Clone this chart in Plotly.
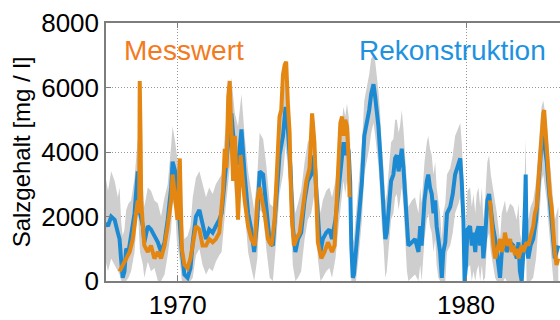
import plotly.graph_objects as go

# Reconstruction (blue) with uncertainty band (gray)
blue_years = [
    1967.50, 1967.58, 1967.69, 1967.81, 1967.92, 1967.98, 1968.04, 1968.09, 1968.15, 1968.21,
    1968.29, 1968.38, 1968.50, 1968.61, 1968.69, 1968.79, 1968.84, 1968.96, 1969.07, 1969.19,
    1969.31, 1969.42, 1969.54, 1969.65, 1969.77, 1969.82, 1969.91, 1969.97, 1970.06, 1970.14,
    1970.23, 1970.34, 1970.44, 1970.52, 1970.63, 1970.75, 1970.86, 1970.98, 1971.09, 1971.21,
    1971.32, 1971.44,
    1971.52, 1971.63, 1971.75, 1971.86, 1971.98, 1972.09, 1972.21, 1972.32, 1972.44, 1972.55,
    1972.65, 1972.76, 1972.84, 1972.96, 1973.07, 1973.19, 1973.30, 1973.42, 1973.53, 1973.65,
    1973.74, 1973.82, 1973.91, 1973.99, 1974.08, 1974.17, 1974.28, 1974.40, 1974.51, 1974.63,
    1974.74, 1974.81, 1974.86, 1974.95, 1975.03, 1975.15, 1975.26,
    1975.35, 1975.47, 1975.58, 1975.70, 1975.75, 1975.81, 1975.87, 1975.93, 1975.98, 1976.02,
    1976.07, 1976.11, 1976.18, 1976.27, 1976.39, 1976.47, 1976.56, 1976.64, 1976.71, 1976.79,
    1976.85, 1976.91, 1976.96, 1977.02, 1977.08, 1977.14, 1977.20, 1977.25, 1977.31, 1977.40,
    1977.48, 1977.54, 1977.60, 1977.66, 1977.71, 1977.77, 1977.83, 1977.89, 1977.95, 1978.00,
    1978.12, 1978.23, 1978.35, 1978.41, 1978.46, 1978.56, 1978.64, 1978.69, 1978.75, 1978.81,
    1978.87, 1978.93, 1978.98, 1979.04, 1979.10, 1979.16, 1979.21,
    1979.28, 1979.34, 1979.45, 1979.54, 1979.62, 1979.74, 1979.80, 1979.85, 1979.91, 1979.95,
    1980.00, 1980.05, 1980.14, 1980.20, 1980.26, 1980.32, 1980.37, 1980.43, 1980.49, 1980.55,
    1980.60, 1980.66, 1980.74, 1980.80, 1980.86, 1980.93, 1981.01, 1981.07, 1981.12, 1981.18,
    1981.24, 1981.30, 1981.35, 1981.41, 1981.53, 1981.64, 1981.70, 1981.76, 1981.82, 1981.87,
    1981.93, 1981.99, 1982.05, 1982.07, 1982.10, 1982.16, 1982.24, 1982.33, 1982.43, 1982.51,
    1982.57, 1982.62, 1982.68, 1982.74, 1982.80, 1982.85, 1982.91, 1982.97, 1983.03, 1983.08,
    1983.14, 1983.20,
]
blue_vals = [
    1800, 1700, 2000, 1900, 1500, 1300, 600, 100, 300, 1000,
    900, 1400, 2100, 3400, 2100, 1700, 1200, 1700, 1600, 1400,
    1200, 900, 1200, 1900, 2900, 3700, 3400, 2500, 1900, 900,
    200, 100, 400, 1200, 2000, 2200, 1700, 1300, 1600, 1500,
    1700, 1900,
    2100, 3300, 4300, 5200, 3900, 3600, 4700, 3300, 2100, 1600,
    900, 1900, 3400, 3300, 2300, 1200, 1100, 2500, 3900, 4500,
    5400, 4700, 3500, 1700, 900, 1300, 1500, 2500, 3100, 3300,
    3900, 2700, 1900, 900, 1300, 1500, 1600,
    1300, 1900, 2900, 3900, 4300, 3900, 4300, 4000, 3100, 1100,
    100, 200, 900, 1900, 3100, 4500, 4900, 5300, 5800, 6100,
    5700, 5300, 4800, 4000, 2900, 2300, 1300, 1500, 2100, 3100,
    3300, 3800, 3900, 3400, 3700, 4100, 3500, 2500, 1500, 1100,
    1200, 1300, 900, 1700, 1100, 2500, 3100, 3300, 2900, 2700,
    2100, 2500, 1700, 1300, 900, 100, 900,
    1200, 2100, 2300, 2700, 3300, 3600, 3800, 3100, 1900, 0,
    500, 1600, 1700, 1100, 1500, 900, 1500, 1700, 1100, 1700,
    700, 1300, 2500, 2700, 2100, 1700, 1300, 900, 500, 100,
    900, 1100, 1300, 900, 1200, 1100, 900, 700, 1200, 300,
    0, 900, 2500, 3300, 1100, 700, 1100, 1300, 1900, 2900,
    3500, 4300, 4500, 4100, 3700, 3100, 2500, 1900, 1100, 700,
    900, 1100,
]
band_upper = [
    3200, 2800, 3400, 3100, 2600, 2900, 1800, 1400, 1600, 2200,
    2400, 2500, 3200, 4400, 3600, 2900, 2300, 2900, 2800, 2500,
    2400, 2000, 2600, 3000, 4200, 4800, 4300, 3900, 3000, 2100,
    1300, 1400, 1700, 2600, 3200, 3400, 3000, 2600, 2900, 2700,
    3000, 3200,
    3300, 4500, 5500, 6300, 5200, 4800, 5800, 4500, 3400, 2800,
    2200, 3300, 4600, 4400, 3600, 2400, 2300, 3700, 5000, 5700,
    6400, 5900, 4700, 2900, 2100, 2400, 2800, 3700, 4300, 4500,
    5000, 3900, 3100, 2100, 2500, 2800, 2900,
    2600, 3100, 4100, 5000, 5400, 5100, 5500, 5100, 4300, 2300,
    1200, 1300, 2100, 3100, 4300, 5600, 6000, 6400, 6900, 7000,
    6800, 6400, 5900, 5200, 4100, 3500, 2500, 2700, 3300, 4300,
    4400, 5000, 5000, 4600, 4800, 5300, 4700, 3700, 2700, 2300,
    2500, 2600, 2100, 2900, 2400, 3700, 4300, 4500, 4100, 3900,
    3300, 3700, 2900, 2500, 2100, 1300, 2100,
    2400, 3300, 3500, 3900, 4500, 4800, 4900, 4300, 3100, 1200,
    1700, 2800, 2900, 2300, 2700, 2100, 2700, 2900, 2300, 2900,
    1900, 2500, 3700, 3900, 3300, 2900, 2500, 2100, 1700, 1300,
    2100, 2300, 2500, 2100, 2400, 2300, 2100, 1900, 2400, 1500,
    1200, 2100, 3700, 4400, 2300, 1900, 2300, 2500, 3100, 4100,
    4700, 5400, 5600, 5300, 4900, 4300, 3700, 3100, 2300, 1900,
    2100, 2300,
]
band_lower = [
    600, 300, 700, 500, 300, 200, 0, 0, 0, 0,
    100, 300, 900, 2300, 900, 500, 100, 600, 300, 400,
    0, 0, 200, 800, 1600, 2500, 2200, 1200, 700, 0,
    0, 0, 0, 100, 800, 1000, 500, 200, 400, 300,
    600, 800,
    900, 2000, 3100, 4000, 2700, 2400, 3400, 2100, 900, 400,
    0, 700, 2200, 2100, 1000, 100, 0, 1300, 2700, 3300,
    4200, 3500, 2300, 500, 0, 100, 300, 1300, 1900, 2100,
    2700, 1500, 700, 0, 100, 300, 400,
    100, 700, 1700, 2700, 3100, 2700, 3100, 2800, 1900, 0,
    0, 0, 0, 700, 1900, 3300, 3700, 4100, 4600, 4900,
    4500, 4100, 3600, 2800, 1700, 1100, 100, 300, 900, 1900,
    2100, 2600, 2700, 2200, 2500, 2900, 2300, 1300, 300, 0,
    100, 200, 0, 500, 0, 1300, 1900, 2100, 1700, 1500,
    900, 1300, 500, 100, 0, 0, 0,
    0, 900, 1100, 1500, 2100, 2400, 2600, 1900, 700, 0,
    0, 400, 500, 0, 300, 0, 300, 500, 0, 500,
    0, 100, 1300, 1500, 900, 500, 100, 0, 0, 0,
    0, 0, 100, 0, 0, 0, 0, 0, 0, 0,
    0, 0, 1300, 2100, 0, 0, 0, 100, 700, 1700,
    2300, 3100, 3300, 2900, 2500, 1900, 1300, 700, 0, 0,
    0, 0,
]

# Measured values (orange); None marks the gap without measurements
orange_years = [
    1967.98, 1968.09, 1968.21, 1968.33, 1968.44, 1968.56, 1968.61, 1968.66, 1968.68, 1968.71,
    1968.73, 1968.79, 1968.84, 1968.96, 1969.07, 1969.19, 1969.31, 1969.42, 1969.54, 1969.65,
    1969.77, 1969.82, 1969.88, 1969.94, 1969.99, 1970.07, 1970.14, 1970.23, 1970.34, 1970.44,
    1970.52, 1970.63, 1970.75, 1970.86, 1970.98, 1971.09, 1971.21, 1971.32, 1971.44,
    1971.46, 1971.57, 1971.63, 1971.69, 1971.75, 1971.80, 1971.86, 1971.92, 1971.98, 1972.03,
    1972.09, 1972.18, 1972.27, 1972.32, 1972.44, 1972.55, 1972.67, 1972.76, 1972.84, 1972.92,
    1973.01, 1973.13, 1973.25, 1973.36, 1973.45, 1973.53, 1973.59, 1973.65, 1973.71, 1973.76,
    1973.82, 1973.88, 1973.91, 1973.96, 1974.03, 1974.11, 1974.23, 1974.34, 1974.46, 1974.57,
    1974.66, 1974.74, 1974.80, 1974.86, 1974.98, 1975.09, 1975.21, 1975.32,
    1975.35, 1975.44, 1975.52, 1975.58, 1975.64, 1975.70, 1975.75, 1975.81, 1975.87, 1975.93,
    1975.96,
    1978.50,
    1980.83, 1980.89, 1980.95, 1981.01, 1981.07, 1981.12, 1981.18, 1981.24, 1981.30, 1981.35,
    1981.41, 1981.47, 1981.53, 1981.58, 1981.64, 1981.70, 1981.76, 1981.82, 1981.87, 1981.93,
    1981.99, 1982.05, 1982.10, 1982.16, 1982.22, 1982.28, 1982.33, 1982.39, 1982.45, 1982.51,
    1982.57, 1982.62, 1982.68, 1982.71, 1982.76, 1982.80, 1982.85, 1982.91, 1982.97, 1983.03,
    1983.08, 1983.14, 1983.20,
]
orange_vals = [
    300, 500, 700, 900, 1300, 2100, 2500, 2100, 6200, 4400,
    2500, 1700, 1100, 900, 1100, 700, 900, 700, 1100, 1700,
    2500, 3300, 2700, 2300, 1900, 3800, 1000, 500, 400, 700,
    1100, 1700, 1600, 1100, 1100, 1300, 1200, 1300, 1500,
    1700, 2800, 4100, 3500, 5700, 6200, 4600, 3100, 4500, 3500,
    1900, 3900, 3000, 2500, 1700, 1300, 1100, 2500, 2900, 2500,
    2100, 1300, 1100, 1900, 3900, 5100, 5300, 6400, 6700, 6800,
    5500, 4600, 3300, 1900, 1100, 1300, 1500, 2300, 3100, 3500,
    5200, 4300, 2700, 1200, 700, 900, 1200, 1000,
    900, 1100, 2500, 4100, 4900, 5100, 4500, 5000, 4800, 3700,
    2600,
    None,
    2500, 1700, 1100, 700, 900, 1100, 1300, 900, 1100, 1500,
    1200, 1100, 1300, 900, 1100, 800, 1000, 700, 900, 1100,
    900, 1100, 1200, 1100, 1300, 1500, 1700, 2100, 2300, 3100,
    3900, 4300, 5200, 5300, 4600, 3900, 3100, 2700, 2300, 1300,
    900, 500, 700,
]

y_ticks = [0, 2000, 4000, 6000, 8000]
x_ticks = [1970, 1980]
y_title = "Salzgehalt [mg / l]"
label_measured = "Messwert"
label_recon = "Rekonstruktion"

FONT = "Liberation Sans, Arial, sans-serif"
GRID = "rgb(150,150,150)"
AXIS = "rgb(125,125,125)"

fig = go.Figure()
fig.add_trace(go.Scatter(x=blue_years, y=band_lower, mode="lines",
                         line=dict(width=0, color="rgb(206,206,206)"),
                         hoverinfo="skip", showlegend=False))
fig.add_trace(go.Scatter(x=blue_years, y=band_upper, mode="lines",
                         line=dict(width=0, color="rgb(206,206,206)"),
                         fill="tonexty", fillcolor="rgb(206,206,206)",
                         hoverinfo="skip", showlegend=False))
fig.add_trace(go.Scatter(x=blue_years, y=blue_vals, mode="lines",
                         line=dict(width=4, color="rgb(28,138,210)"),
                         showlegend=False))
fig.add_trace(go.Scatter(x=orange_years, y=orange_vals, mode="lines",
                         line=dict(width=4, color="rgb(228,134,18)"),
                         connectgaps=False, showlegend=False))

fig.add_annotation(x=1970.21, y=7150, text=label_measured, showarrow=False,
                   xanchor="center", yanchor="middle",
                   font=dict(family=FONT, size=28, color="rgb(243,122,32)"))
fig.add_annotation(x=1979.52, y=7150, text=label_recon, showarrow=False,
                   xanchor="center", yanchor="middle",
                   font=dict(family=FONT, size=28, color="rgb(30,146,224)"))

fig.update_layout(
    width=560, height=320,
    margin=dict(l=106, r=0, t=23, b=31),
    paper_bgcolor="white", plot_bgcolor="white",
    font=dict(family=FONT, size=26, color="black"),
    showlegend=False,
)
fig.update_xaxes(range=[1967.51, 1983.26], tickvals=x_ticks, ticktext=[str(v) for v in x_ticks],
                 showline=True, linecolor=AXIS, linewidth=1.5, mirror="ticks",
                 ticks="inside", ticklen=5, tickcolor=AXIS,
                 showgrid=True, gridcolor=GRID, griddash="1px,2px", gridwidth=1,
                 zeroline=False, tickfont=dict(size=26))
fig.update_yaxes(range=[0, 8000], tickvals=y_ticks,
                 showline=True, linecolor=AXIS, linewidth=1.5,
                 ticks="inside", ticklen=5, tickcolor=AXIS,
                 showgrid=True, gridcolor=GRID, griddash="1px,2px", gridwidth=1,
                 zeroline=False, tickfont=dict(size=26),
                 title=dict(text=y_title, font=dict(size=24), standoff=4))

fig.write_html("out.html")
